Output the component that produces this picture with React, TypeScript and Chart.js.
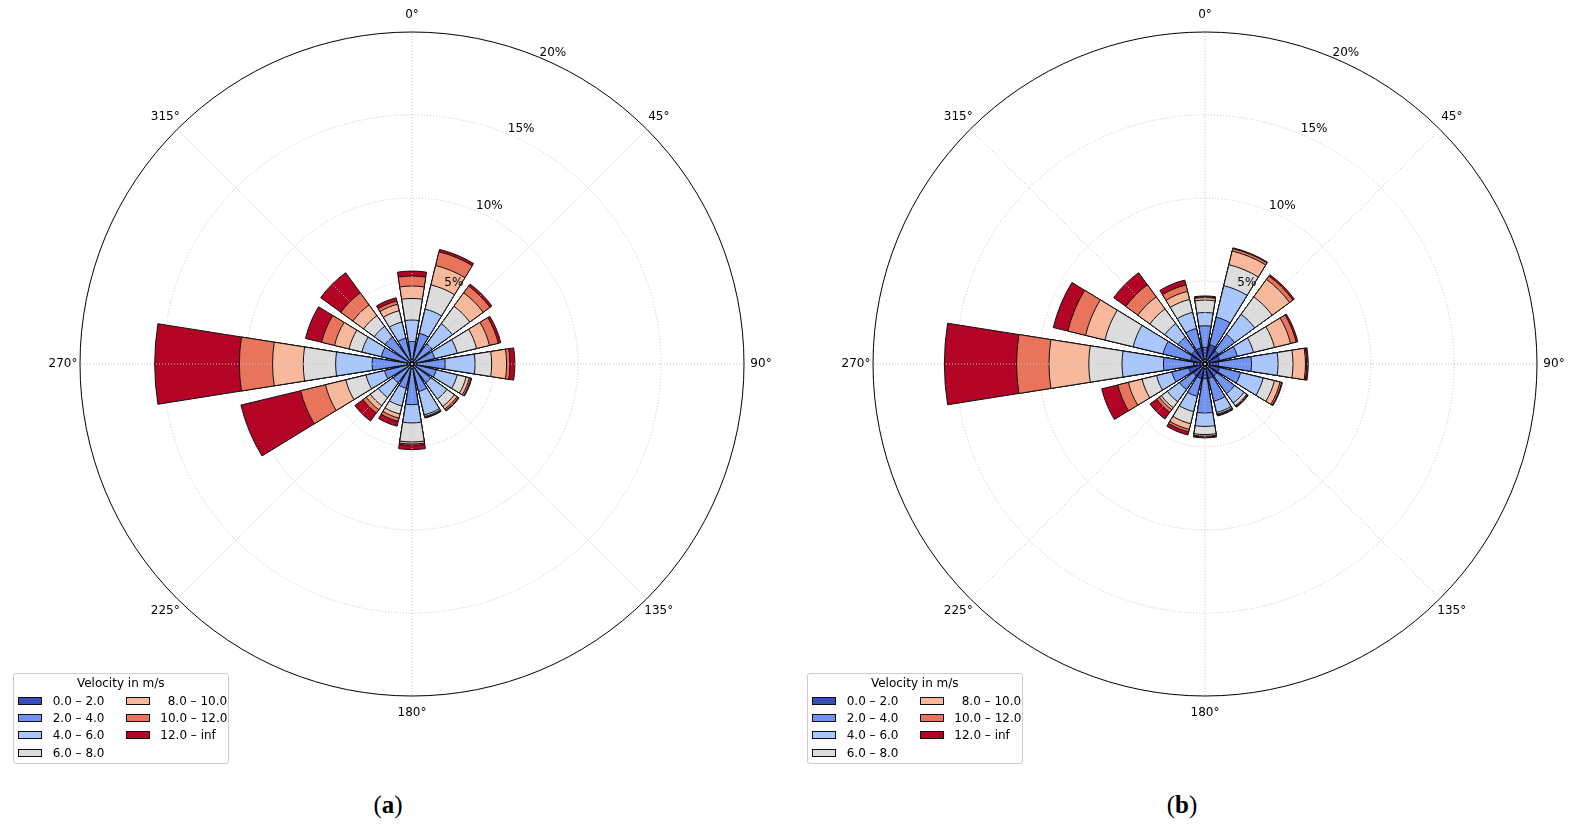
import React, { useEffect, useRef } from "react";
import { Chart, registerables } from "chart.js";

Chart.register(...registerables);

// ---- categories / ticks ----
const directions = [0, 22.5, 45, 67.5, 90, 112.5, 135, 157.5, 180, 202.5, 225, 247.5, 270, 292.5, 315, 337.5];
const angleTicks = [0, 45, 90, 135, 180, 225, 270, 315];
const angleTickLabels = ["0°", "45°", "90°", "135°", "180°", "225°", "270°", "315°"];
const radialTicks = [5, 10, 15, 20];
const radialTickLabels = ["5%", "10%", "15%", "20%"];
const speedLabels = ["0.0 – 2.0", "2.0 – 4.0", "4.0 – 6.0", "6.0 – 8.0", "8.0 – 10.0", "10.0 – 12.0", "12.0 – inf"];
const speedColors = ["#3b4cc0", "#6f92f3", "#aac7fd", "#dddcdc", "#f7b89c", "#e7745b", "#b40426"];

// ---- (a) frequencies in % per speed bin, by direction (N .. NNW) ----
const a0to2 = [0.2, 0.2, 0.2, 0.2, 0.2, 0.2, 0.2, 0.2, 0.2, 0.2, 0.2, 0.2, 0.3, 0.2, 0.2, 0.2];
const a2to4 = [1.15, 1.7, 1.3, 1.2, 1.8, 1.3, 1.2, 1.5, 2.25, 1.3, 1.2, 1.5, 2.1, 1.7, 1.8, 1.4];
const a4to6 = [1.3, 1.5, 1.5, 1.4, 1.8, 1.3, 1.2, 1.45, 1.1, 1.1, 1.1, 1.15, 2.2, 1.2, 0.8, 1.0];
const a6to8 = [1.3, 1.5, 1.3, 1.2, 1.0, 0.55, 0.55, 0.1, 1.15, 0.5, 0.6, 1.25, 1.95, 0.8, 0.8, 0.7];
const a8to10 = [0.75, 1.2, 1.0, 0.8, 0.9, 0.2, 0.2, 0.05, 0.12, 0.25, 0.3, 1.26, 1.85, 0.9, 0.8, 0.4];
const a10to12 = [0.6, 0.85, 0.5, 0.55, 0.2, 0.1, 0.1, 0.02, 0.08, 0.2, 0.25, 1.54, 2.0, 0.8, 0.9, 0.2];
const a12up = [0.3, 0.15, 0.15, 0.15, 0.3, 0.05, 0.05, 0.03, 0.26, 0.3, 0.6, 3.7, 5.1, 1.0, 1.5, 0.2];

// ---- (b) ----
const b0to2 = [1.0, 1.2, 1.0, 0.9, 0.8, 0.9, 0.9, 0.9, 0.9, 0.9, 0.9, 1.0, 0.7, 0.9, 1.0, 1.0];
const b2to4 = [1.3, 1.7, 1.2, 1.1, 2.0, 1.3, 1.3, 1.4, 2.05, 1.1, 1.0, 1.05, 1.8, 1.7, 1.0, 1.2];
const b4to6 = [0.8, 1.95, 1.5, 1.0, 1.6, 1.4, 0.7, 0.7, 0.81, 0.95, 0.9, 0.95, 2.5, 1.85, 1.0, 1.0];
const b6to8 = [0.75, 1.3, 1.3, 1.3, 0.9, 0.7, 0.2, 0.1, 0.49, 0.75, 0.45, 0.9, 2.0, 1.75, 1.1, 0.8];
const b8to10 = [0.15, 0.85, 1.3, 1.0, 0.75, 0.35, 0.05, 0.05, 0.1, 0.35, 0.15, 0.85, 2.4, 1.2, 0.9, 0.5];
const b10to12 = [0.05, 0.15, 0.25, 0.35, 0.07, 0.1, 0.03, 0.03, 0.05, 0.15, 0.2, 0.65, 1.95, 1.1, 0.9, 0.4];
const b12up = [0.05, 0.05, 0.1, 0.1, 0.1, 0.05, 0.04, 0.04, 0.05, 0.2, 0.5, 1.0, 4.35, 0.9, 0.9, 0.3];

const binsA = [a0to2, a2to4, a4to6, a6to8, a8to10, a10to12, a12up];
const binsB = [b0to2, b2to4, b4to6, b6to8, b8to10, b10to12, b12up];

const BAR_DEG = 18;
const GAP_DEG = 4.5;
const FONT = '"DejaVu Sans", sans-serif';

const roseDecor = {
  id: "roseDecor",
  afterDraw(chart: any) {
    const s = chart.scales.r;
    const ctx = chart.ctx;
    const cx = s.xCenter;
    const cy = s.yCenter;
    const R = s.getDistanceFromCenterForValue(radialTicks[radialTicks.length - 1]);
    ctx.save();
    ctx.strokeStyle = "#c4c4c4";
    ctx.lineWidth = 1;
    ctx.setLineDash([1, 2]);
    angleTicks.forEach((a) => {
      const t = ((a - 90) * Math.PI) / 180;
      ctx.beginPath();
      ctx.moveTo(cx, cy);
      ctx.lineTo(cx + R * Math.cos(t), cy + R * Math.sin(t));
      ctx.stroke();
    });
    ctx.setLineDash([]);
    ctx.fillStyle = "#000";
    ctx.font = `12px ${FONT}`;
    ctx.textAlign = "center";
    ctx.textBaseline = "middle";
    angleTicks.forEach((a, i) => {
      const t = ((a - 90) * Math.PI) / 180;
      const d = R + 17;
      ctx.fillText(angleTickLabels[i], cx + d * Math.cos(t), cy + d * Math.sin(t));
    });
    ctx.textAlign = "left";
    ctx.textBaseline = "alphabetic";
    const tl = ((22.5 - 90) * Math.PI) / 180;
    radialTicks.forEach((v, i) => {
      const r = s.getDistanceFromCenterForValue(v);
      ctx.fillText(radialTickLabels[i], cx + r * Math.cos(tl) + 0.5, cy + r * Math.sin(tl) - 1.5);
    });
    ctx.restore();
  },
};

function WindRose({ bins, left }: { bins: number[][]; left: number }) {
  const ref = useRef<HTMLCanvasElement>(null);
  useEffect(() => {
    if (!ref.current) return;
    const cumulative = bins.map((_, k) =>
      directions.map((_, i) => bins.slice(0, k + 1).reduce((sum, b) => sum + b[i], 0))
    );
    const labels = directions.flatMap((d) => [`${d}°`, ""]);
    const datasets = bins.map((_, k) => ({
      label: speedLabels[k],
      data: directions.flatMap((_, i) => [cumulative[k][i], 0]),
      backgroundColor: (c: any) => (c.dataIndex % 2 === 0 ? speedColors[k] : "rgba(0,0,0,0)"),
      borderColor: "#111",
      borderWidth: (c: any) => (c.dataIndex % 2 === 0 ? 1 : 0),
      angle: (c: any) => (c.dataIndex % 2 === 0 ? BAR_DEG : GAP_DEG),
    }));
    const chart = new Chart(ref.current, {
      type: "polarArea",
      data: { labels, datasets } as any,
      options: {
        responsive: false,
        animation: false,
        events: [],
        layout: { padding: { left: 48, right: 48, top: 32, bottom: 32 } },
        plugins: { legend: { display: false }, tooltip: { enabled: false } },
        scales: {
          r: {
            min: 0,
            max: 20,
            startAngle: -BAR_DEG / 2,
            z: 1,
            ticks: { display: false, stepSize: 5, z: 1 },
            pointLabels: { display: false },
            angleLines: { display: false },
            grid: {
              circular: true,
              color: (c: any) => (c.tick && c.tick.value === 20 ? "#000" : "#c4c4c4"),
              lineWidth: 1,
            },
            border: {
              dash: (c: any) => (c.tick && c.tick.value === 20 ? [] : [1, 2]),
            },
          },
        },
      } as any,
      plugins: [roseDecor],
    });
    return () => chart.destroy();
  }, [bins]);
  return (
    <canvas
      ref={ref}
      width={760}
      height={728}
      style={{ position: "absolute", left, top: 0, width: 760, height: 728 }}
    />
  );
}

function Legend({ left }: { left: number }) {
  const rowY = (i: number) => 27.5 + 17.2 * i;
  const items = speedLabels.map((lab, k) => {
    const col = k < 4 ? 0 : 1;
    const row = k < 4 ? k : k - 4;
    const sx = col === 0 ? 4.8 : 112.5;
    const tx = col === 0 ? 39.2 : k === 4 ? 154.2 : 146.8;
    const cy = rowY(row);
    return (
      <React.Fragment key={lab}>
        <div
          style={{
            position: "absolute",
            left: sx,
            top: cy - 4,
            width: 24,
            height: 8,
            boxSizing: "border-box",
            border: "1px solid #111",
            background: speedColors[k],
          }}
        />
        <div
          style={{
            position: "absolute",
            left: tx,
            top: cy - 7,
            height: 14,
            lineHeight: "14px",
            fontSize: 12,
            whiteSpace: "nowrap",
          }}
        >
          {lab}
        </div>
      </React.Fragment>
    );
  });
  return (
    <div
      style={{
        position: "absolute",
        left,
        top: 672.5,
        width: 216.5,
        height: 91,
        boxSizing: "border-box",
        border: "1px solid #cccccc",
        borderRadius: 3,
        background: "rgba(255,255,255,0.8)",
        fontFamily: FONT,
        color: "#000",
      }}
    >
      <div
        style={{
          position: "absolute",
          left: 0,
          width: "100%",
          top: 2.5,
          height: 14,
          lineHeight: "14px",
          fontSize: 12,
          textAlign: "center",
        }}
      >
        Velocity in m/s
      </div>
      {items}
    </div>
  );
}

function Caption({ cx, letter }: { cx: number; letter: string }) {
  return (
    <div
      style={{
        position: "absolute",
        left: cx - 50,
        width: 100,
        top: 789,
        height: 32,
        lineHeight: "32px",
        textAlign: "center",
        fontFamily: '"Liberation Serif", serif',
        fontSize: 25,
        color: "#000",
      }}
    >
      (<b>{letter}</b>)
    </div>
  );
}

export default function App() {
  return (
    <div
      style={{
        position: "absolute",
        left: 0,
        top: 0,
        width: 1581,
        height: 826,
        overflow: "hidden",
        background: "#fff",
      }}
    >
      <WindRose bins={binsA} left={32} />
      <WindRose bins={binsB} left={825} />
      <Legend left={12.5} />
      <Legend left={806.5} />
      <Caption cx={388} letter="a" />
      <Caption cx={1182} letter="b" />
    </div>
  );
}
